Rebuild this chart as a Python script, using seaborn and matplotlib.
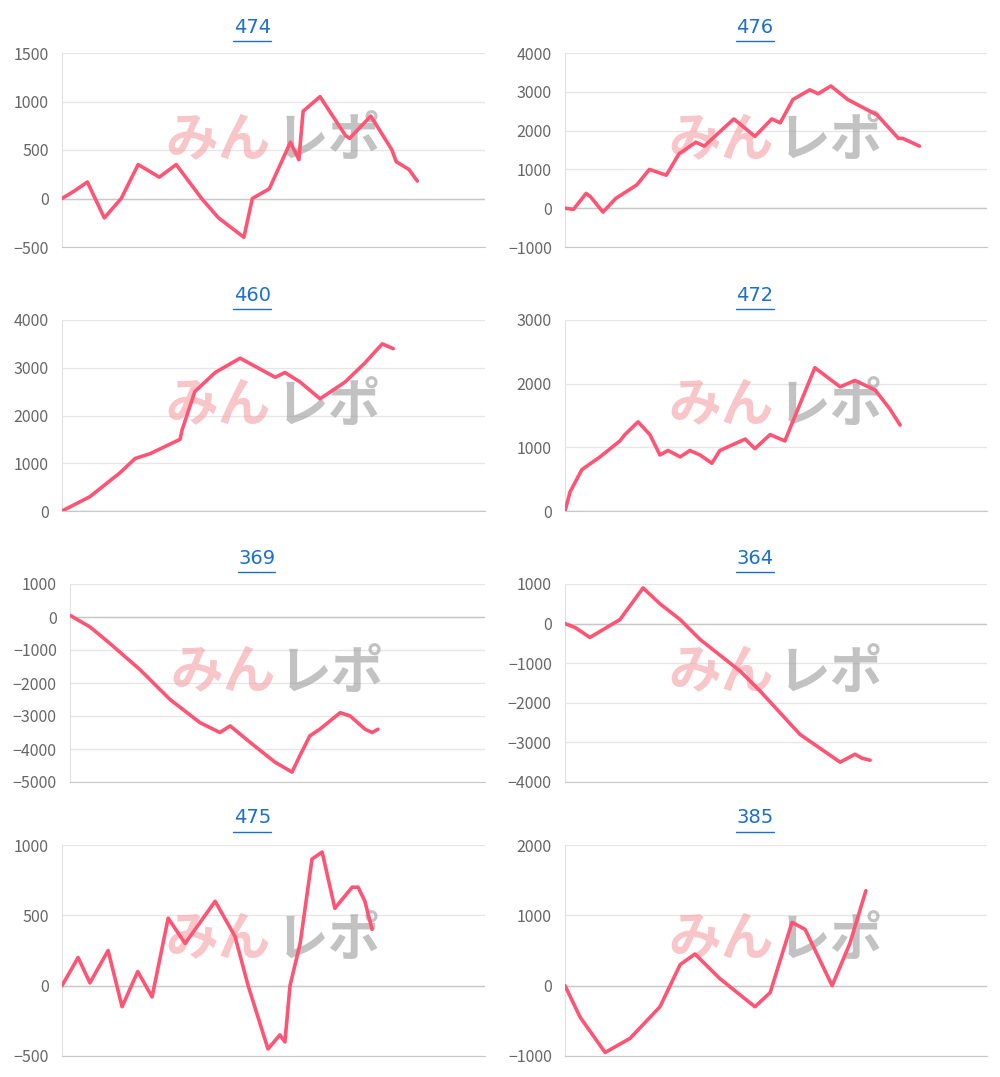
import matplotlib
matplotlib.use("Agg")
import matplotlib.pyplot as plt
import seaborn as sns
import pandas as pd

sns.set_style("white")
plt.rcParams['font.family'] = ['Noto Sans CJK JP', 'DejaVu Sans']

titles = ["474", "476", "460", "472", "369", "364", "475", "385"]

x474 = [0, 3, 6, 10, 14, 18, 23, 27, 33, 37, 43, 45, 49, 54, 56, 57, 61, 67, 68, 73, 78, 79, 82, 84]
y474 = [0, 80, 170, -200, 0, 350, 220, 350, 0, -200, -400, 0, 100, 580, 400, 900, 1050, 650, 620, 850, 500, 380, 300, 180]

x476 = [0, 2, 5, 6, 9, 12, 17, 20, 24, 27, 31, 33, 40, 45, 49, 51, 54, 58, 60, 63, 67, 74, 79, 80, 84]
y476 = [0, -30, 380, 300, -100, 250, 600, 1000, 850, 1400, 1700, 1600, 2300, 1850, 2300, 2200, 2800, 3050, 2950, 3150, 2800, 2400, 1800, 1800, 1600]

x460 = [0, 6.6, 13.7, 17.3, 20.8, 27.9, 28.4, 31.4, 36.2, 42.1, 50.4, 52.7, 56.3, 61, 66.9, 71.6, 75.7, 78.3]
y460 = [0, 300, 800, 1100, 1200, 1500, 1700, 2500, 2900, 3200, 2800, 2900, 2700, 2350, 2700, 3100, 3500, 3400]

x472 = [0, 1.2, 4, 8.3, 13, 14.2, 17.3, 20.1, 22.5, 24.4, 27.3, 29.6, 32, 34.8, 36.7, 42.7, 45, 48.6, 52.1, 59.2, 65.2, 68.7, 73.5, 77, 79.4]
y472 = [0, 300, 650, 850, 1100, 1200, 1400, 1200, 880, 950, 850, 950, 880, 750, 950, 1130, 980, 1200, 1100, 2250, 1950, 2050, 1900, 1600, 1350]

x369 = [0, 4.8, 9.6, 16.9, 24.1, 31.3, 36.1, 38.6, 43.4, 49.4, 53.5, 55.4, 57.8, 60.2, 65.1, 67.5, 71.1, 72.8, 74.2]
y369 = [50, -300, -800, -1600, -2500, -3200, -3500, -3300, -3800, -4400, -4700, -4200, -3600, -3400, -2900, -3000, -3400, -3500, -3400]

x364 = [0, 2.4, 5.9, 13, 18.5, 22.5, 27.3, 32, 41.5, 46.2, 55.7, 65.2, 68.7, 70.4, 72.3]
y364 = [0, -100, -350, 100, 900, 500, 100, -400, -1200, -1700, -2800, -3500, -3300, -3400, -3450]

x475 = [0, 3.8, 6.6, 10.9, 14.2, 17.9, 21.3, 25.1, 29.1, 36.2, 40.9, 44, 48.7, 51.5, 52.7, 53.9, 56.3, 59.1, 61.5, 64.5, 68.6, 70, 71.6, 73.3]
y475 = [0, 200, 20, 250, -150, 100, -80, 480, 300, 600, 350, 0, -450, -350, -400, 0, 300, 900, 950, 550, 700, 700, 600, 400]

x385 = [0, 3.6, 9.5, 15.4, 22.5, 27.3, 30.8, 36.7, 45, 48.6, 53.8, 56.9, 63.3, 67.5, 71.3]
y385 = [0, -450, -950, -750, -300, 300, 450, 100, -300, -100, 900, 800, 0, 600, 1350]

series_x = [x474, x476, x460, x472, x369, x364, x475, x385]
series_y = [y474, y476, y460, y472, y369, y364, y475, y385]
ylims = [(-500, 1500), (-1000, 4000), (0, 4000), (0, 3000),
         (-5000, 1000), (-4000, 1000), (-500, 1000), (-1000, 2000)]
steps = [500, 1000, 1000, 1000, 1000, 1000, 500, 1000]

W, H = 1000, 1077
rows = [(53, 247), (320, 511), (584, 782), (845, 1056)]
cols = [(62, 485), (565, 987)]

fig = plt.figure(figsize=(10, 10.77), dpi=100)

for i in range(8):
    r, c = divmod(i, 2)
    top, bot = rows[r]
    l, rr = cols[c]
    if i == 4:
        l = 70
    ax = fig.add_axes([l / W, 1 - bot / H, (rr - l) / W, (bot - top) / H])
    df = pd.DataFrame({"x": series_x[i], "y": series_y[i]})
    sns.lineplot(data=df, x="x", y="y", ax=ax, color="#ff5473", linewidth=2.6, zorder=3)
    lo, hi = ylims[i]
    ax.set_xlim(0, 100)
    ax.set_ylim(lo, hi)
    ax.set_yticks(range(lo, hi + 1, steps[i]))
    ax.set_xticks([])
    ax.set_xlabel("")
    ax.set_ylabel("")
    ax.grid(axis="y", color="#e6e6e6", linewidth=1)
    ax.axhline(0, color="#c8c8c8", linewidth=1, zorder=1)
    for s in ["top", "right"]:
        ax.spines[s].set_visible(False)
    ax.spines["left"].set_color("#e0e0e0")
    ax.spines["bottom"].set_color("#c8c8c8")
    ax.tick_params(axis="y", length=6, color="#e0e0e0", labelcolor="#666666", labelsize=11.5)
    # watermark
    ax.text(0.37, 0.55, "みん", transform=ax.transAxes, fontsize=38, fontweight="bold",
            style="italic", color="#f4a0a6", alpha=0.6, ha="center", va="center", zorder=2)
    ax.text(0.63, 0.55, "レポ", transform=ax.transAxes, fontsize=38, fontweight="bold",
            style="italic", color="#9a9a9a", alpha=0.6, ha="center", va="center", zorder=2)
    # title with underline
    ax.text(0.45, 1.13, titles[i], transform=ax.transAxes, fontsize=14, color="#1a6fd0",
            ha="center", va="center", family=["DejaVu Sans"])
    ax.plot([0.405, 0.495], [1.06, 1.06], transform=ax.transAxes, color="#1a6fd0",
            linewidth=1, clip_on=False)

fig.savefig("out.png", dpi=100)
